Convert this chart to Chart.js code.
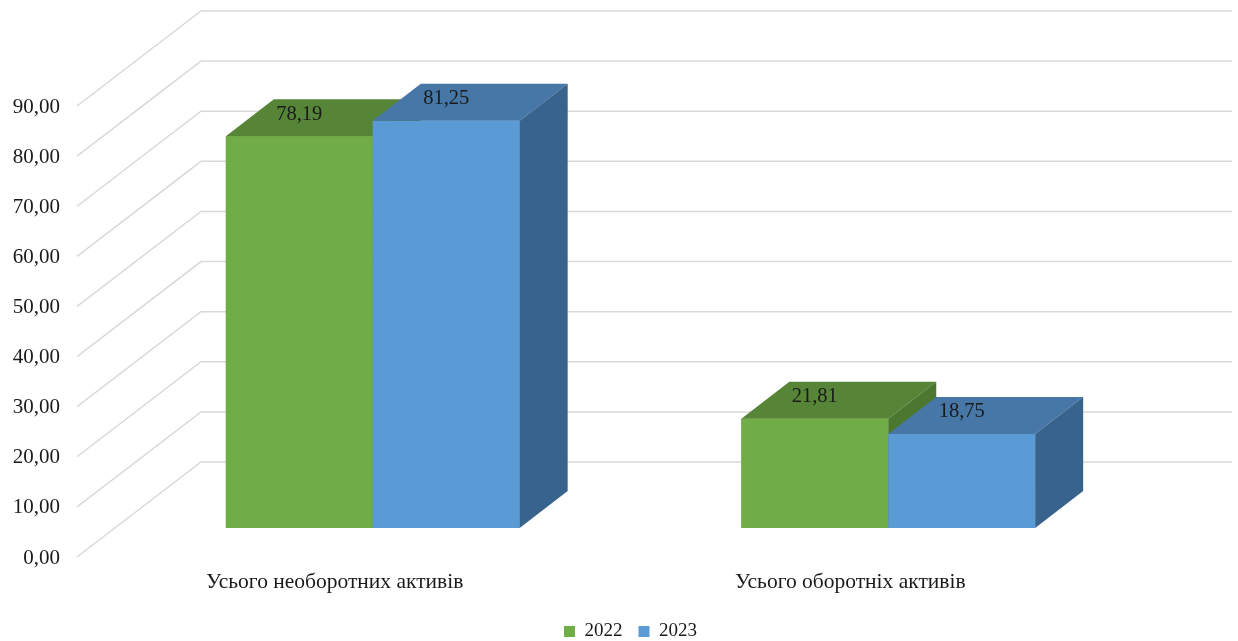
<!DOCTYPE html>
<html lang="uk">
<head>
<meta charset="utf-8">
<title>Структура активів, %</title>
<script src="https://cdn.jsdelivr.net/npm/chart.js@4"></script>
<style>
  html, body { margin: 0; padding: 0; background: #fff; }
  #wrap { width: 1238px; height: 641px; }
</style>
</head>
<body>
<div id="wrap"><canvas id="assets-chart"></canvas></div>
<script>
// Asset structure, % of total
const categories = ['Усього необоротних активів', 'Усього оборотніх активів'];
const years = ['2022', '2023'];
const values2022 = [78.19, 21.81];
const values2023 = [81.25, 18.75];
const yMax = 90;
const yStep = 10;

const frontColors = ['#70ad47', '#5b9bd5'];
const topColors = ['#578537', '#4677a7'];
const sideColors = ['#4b772f', '#38638c'];

// oblique projection offsets (px)
const BACK = { dx: 86, dy: -66 };   // chart plane -> back wall
const FRONT = { dx: -38, dy: 29 };  // chart plane -> front edge of floor
const DEPTH = { dx: 48, dy: -37 };  // bar depth

const FONT = 'Liberation Serif, Times New Roman, serif';
const fmt = (v) => v.toFixed(2).replace('.', ',');

// legend geometry (Chart.js: itemHeight + padding + 10)
const LEGEND_FONT = 19;
const LEGEND_PAD = 16;
const LEGEND_H = LEGEND_FONT + LEGEND_PAD + 10;
const BOTTOM_PAD = -10;

function poly(ctx, pts, color) {
  ctx.beginPath();
  ctx.moveTo(pts[0][0], pts[0][1]);
  for (let i = 1; i < pts.length; i++) ctx.lineTo(pts[i][0], pts[i][1]);
  ctx.closePath();
  ctx.fillStyle = color;
  ctx.fill();
}

const bars3d = {
  id: 'bars3d',
  // back wall gridlines + diagonal side wall lines
  beforeDatasetsDraw(chart) {
    const { ctx, chartArea: a, scales: { y } } = chart;
    ctx.save();
    ctx.strokeStyle = '#d9d9d9';
    ctx.lineWidth = 1.5;
    y.ticks.forEach((t) => {
      const py = y.getPixelForValue(t.value);
      ctx.beginPath();
      ctx.moveTo(a.left + FRONT.dx, py + FRONT.dy);
      ctx.lineTo(a.left + BACK.dx, py + BACK.dy);
      ctx.lineTo(a.right + BACK.dx, py + BACK.dy);
      ctx.stroke();
    });
    ctx.restore();
  },
  // front, top and side faces, painted per category so the later series overlaps
  afterDatasetsDraw(chart) {
    const { ctx } = chart;
    const metas = chart.data.datasets.map((_, i) => chart.getDatasetMeta(i));
    ctx.save();
    categories.forEach((_, j) => {
      metas.forEach((meta, i) => {
        const bar = meta.data[j];
        const l = bar.x - bar.width / 2;
        const r = bar.x + bar.width / 2;
        const t = bar.y;
        const b = bar.base;
        poly(ctx, [[l, t], [r, t], [r, b], [l, b]], frontColors[i]);
        poly(ctx, [[l, t], [r, t], [r + DEPTH.dx, t + DEPTH.dy], [l + DEPTH.dx, t + DEPTH.dy]], topColors[i]);
        poly(ctx, [[r, t], [r + DEPTH.dx, t + DEPTH.dy], [r + DEPTH.dx, b + DEPTH.dy], [r, b]], sideColors[i]);
      });
    });
    // value labels on the top faces
    ctx.fillStyle = '#1a1a1a';
    ctx.font = '20.5px ' + FONT;
    ctx.textAlign = 'center';
    ctx.textBaseline = 'middle';
    metas.forEach((meta, i) => {
      meta.data.forEach((bar, j) => {
        const v = chart.data.datasets[i].data[j];
        ctx.fillText(fmt(v), bar.x, bar.y - 22);
      });
    });
    ctx.restore();
  }
};

const ctx = document.getElementById('assets-chart').getContext('2d');
new Chart(ctx, {
  type: 'bar',
  data: {
    labels: categories,
    datasets: [
      { label: years[0], data: values2022, backgroundColor: frontColors[0] },
      { label: years[1], data: values2023, backgroundColor: frontColors[1] }
    ]
  },
  options: {
    responsive: true,
    maintainAspectRatio: false,
    devicePixelRatio: 1,
    animation: false,
    categoryPercentage: 0.57,
    barPercentage: 1.0,
    layout: { padding: { top: 77, right: 92, left: 0, bottom: BOTTOM_PAD } },
    scales: {
      x: {
        grid: { display: false },
        border: { display: false },
        ticks: {
          color: '#1a1a1a',
          font: { family: FONT, size: 21.5 },
          padding: 33,
          labelOffset: FRONT.dx,
          maxRotation: 0,
          autoSkip: false
        },
        afterFit(scale) {
          scale.height = 641 - BOTTOM_PAD - 528 - LEGEND_H;
        }
      },
      y: {
        min: 0,
        max: yMax,
        grid: { display: false },
        border: { display: false },
        ticks: {
          stepSize: yStep,
          color: '#1a1a1a',
          font: { family: FONT, size: 21 },
          padding: 47,
          labelOffset: 30,
          callback: (v) => fmt(v)
        },
        afterFit(scale) {
          scale.width = 115;
        }
      }
    },
    plugins: {
      legend: {
        position: 'bottom',
        fullSize: false,
        labels: {
          color: '#1a1a1a',
          font: { family: FONT, size: LEGEND_FONT },
          boxWidth: 11,
          boxHeight: 11,
          padding: LEGEND_PAD
        }
      },
      tooltip: { enabled: false }
    }
  },
  plugins: [bars3d]
});
</script>
</body>
</html>
